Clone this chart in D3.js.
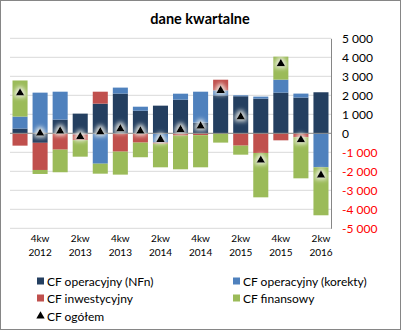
<!DOCTYPE html>
<html lang="pl">
<head>
  <meta charset="UTF-8" />
  <script src="https://d3js.org/d3.v7.min.js"></script>
  <title>dane kwartalne</title>
  <style>
    body { margin: 0; background: #fff; }
    text { font-family: Lato, "Liberation Sans", sans-serif; }
  </style>
</head>
<body>
  <div id="chart"></div>
  <script>
    const quarters = ["3kw 2012", "4kw 2012", "1kw 2013", "2kw 2013", "3kw 2013", "4kw 2013",
      "1kw 2014", "2kw 2014", "3kw 2014", "4kw 2014", "1kw 2015", "2kw 2015",
      "3kw 2015", "4kw 2015", "1kw 2016", "2kw 2016"];
    const cfNfn     = [250, -500, 720, 1035, 1560, 2090, 1190, 1455, 1770, 560, 2000, 1950, 1825, 2140, 1880, 2160];
    const cfKorekty = [630, 2140, 1470, -60, -1600, 315, 210, -490, 315, 1630, 260, 50, 105, 685, 210, -1790];
    const cfInwest  = [-650, -1430, -860, -300, 630, -965, -490, -55, -120, -100, 560, -650, -1035, -370, -210, 0];
    const cfFinans  = [1900, -210, -1190, -870, -525, -1210, -770, -1245, -1775, -1690, -490, -475, -2335, 1210, -2160, -2525];
    const cfOgolem  = [2120, 0, 110, -180, 70, 230, 110, -320, 190, 380, 2260, 860, -1420, 3670, -340, -2200];
    const yTicks = [-5000, -4000, -3000, -2000, -1000, 0, 1000, 2000, 3000, 4000, 5000];

    const seriesNames = ["CF operacyjny (NFn)", "CF operacyjny (korekty)", "CF inwestycyjny", "CF finansowy"];
    const colors = ["#243f60", "#4f81bd", "#c0504d", "#9bbb59"];

    const width = 401, height = 330;
    const margin = { top: 38.3, right: 70, bottom: 101.7, left: 10 };

    const rows = quarters.map((q, i) => ({
      q, s0: cfNfn[i], s1: cfKorekty[i], s2: cfInwest[i], s3: cfFinans[i]
    }));
    const stacked = d3.stack()
      .keys(["s0", "s1", "s2", "s3"])
      .offset(d3.stackOffsetDiverging)(rows);

    const svg = d3.select("#chart").append("svg")
      .attr("width", width)
      .attr("height", height);

    // glow around triangle markers
    const defs = svg.append("defs");
    const glow = defs.append("filter").attr("id", "glow")
      .attr("x", "-100%").attr("y", "-100%").attr("width", "300%").attr("height", "300%");
    glow.append("feMorphology").attr("in", "SourceAlpha").attr("operator", "dilate").attr("radius", 2).attr("result", "d");
    glow.append("feGaussianBlur").attr("in", "d").attr("stdDeviation", 2.2).attr("result", "b");
    glow.append("feFlood").attr("flood-color", "#f4f4ec").attr("flood-opacity", 0.85);
    glow.append("feComposite").attr("in2", "b").attr("operator", "in").attr("result", "g");
    const merge = glow.append("feMerge");
    merge.append("feMergeNode").attr("in", "g");
    merge.append("feMergeNode").attr("in", "SourceGraphic");

    svg.append("rect")
      .attr("x", 0.5).attr("y", 0.5)
      .attr("width", width - 1).attr("height", height - 1)
      .attr("fill", "#fff").attr("stroke", "#868686");

    svg.append("text")
      .attr("x", 200).attr("y", 24)
      .attr("text-anchor", "middle")
      .attr("font-size", "14.5px").attr("font-weight", "bold")
      .text("dane kwartalne");

    const x = d3.scaleBand()
      .domain(quarters)
      .range([margin.left, width - margin.right])
      .paddingInner(0.25)
      .paddingOuter(0.125);

    const y = d3.scaleLinear()
      .domain([-5000, 5000])
      .range([height - margin.bottom, margin.top]);

    // gridlines
    svg.append("g")
      .selectAll("line")
      .data(yTicks.filter(d => d !== 0))
      .join("line")
      .attr("x1", margin.left).attr("x2", width - margin.right)
      .attr("y1", d => y(d)).attr("y2", d => y(d))
      .attr("stroke", "#d9d9d9");

    // bars
    svg.append("g")
      .selectAll("g")
      .data(stacked)
      .join("g")
      .attr("fill", (d, i) => colors[i])
      .selectAll("rect")
      .data(d => d)
      .join("rect")
      .attr("x", d => x(d.data.q))
      .attr("y", d => y(Math.max(d[0], d[1])))
      .attr("height", d => Math.abs(y(d[0]) - y(d[1])))
      .attr("width", x.bandwidth());

    // zero line
    svg.append("line")
      .attr("x1", margin.left).attr("x2", width - margin.right)
      .attr("y1", y(0)).attr("y2", y(0))
      .attr("stroke", "#868686");

    // right axis
    const fmt = v => d3.format(",")(v).replace(/,/g, " ").replace("−", "-");
    const yAxis = svg.append("g")
      .attr("transform", `translate(${width - margin.right},0)`)
      .call(d3.axisRight(y).tickValues(yTicks).tickSize(0).tickPadding(11).tickFormat(fmt));
    yAxis.select(".domain").attr("stroke", "#868686");
    yAxis.selectAll("text")
      .attr("font-family", "Lato, sans-serif")
      .attr("font-size", "12px")
      .attr("fill", d => d < 0 ? "#ff0000" : "#000");

    // category labels (every second quarter)
    const xAxis = svg.append("g")
      .attr("transform", `translate(0,${height - margin.bottom})`)
      .call(d3.axisBottom(x).tickValues(quarters.filter((d, i) => i % 2 === 1)).tickSize(0).tickFormat(""));
    xAxis.select(".domain").remove();
    xAxis.selectAll(".tick text").each(function (d) {
      const parts = d.split(" ");
      const t = d3.select(this)
        .attr("font-family", "Lato, sans-serif")
        .attr("font-size", "10px")
        .attr("fill", "#000")
        .attr("y", 14);
      t.append("tspan").attr("x", 0).attr("dy", 0).text(parts[0]);
      t.append("tspan").attr("x", 0).attr("dy", 13.5).text(parts[1]);
    });

    // total markers
    const tri = d3.symbol().type(d3.symbolTriangle).size(34);
    svg.append("g")
      .selectAll("path")
      .data(cfOgolem)
      .join("path")
      .attr("d", tri)
      .attr("transform", (d, i) => `translate(${x(quarters[i]) + x.bandwidth() / 2},${y(d)})`)
      .attr("fill", "#000")
      .attr("filter", "url(#glow)");

    // legend
    const legendItems = [
      { name: seriesNames[0], color: colors[0], cx: 37, cy: 281 },
      { name: seriesNames[1], color: colors[1], cx: 233, cy: 281 },
      { name: seriesNames[2], color: colors[2], cx: 37, cy: 298 },
      { name: seriesNames[3], color: colors[3], cx: 233, cy: 298 },
      { name: "CF ogółem", color: "#000", cx: 37, cy: 316, marker: true }
    ];
    const legend = svg.append("g")
      .selectAll("g")
      .data(legendItems)
      .join("g")
      .attr("transform", d => `translate(${d.cx},${d.cy})`);
    legend.filter(d => !d.marker).append("rect")
      .attr("x", 0).attr("y", -3.5).attr("width", 7).attr("height", 7)
      .attr("fill", d => d.color);
    legend.filter(d => d.marker).append("path")
      .attr("d", d3.symbol().type(d3.symbolTriangle).size(30))
      .attr("transform", "translate(3.5,0)")
      .attr("fill", "#000");
    legend.append("text")
      .attr("x", 10).attr("y", 4.5)
      .attr("font-size", "12px")
      .text(d => d.name);
  </script>
</body>
</html>
